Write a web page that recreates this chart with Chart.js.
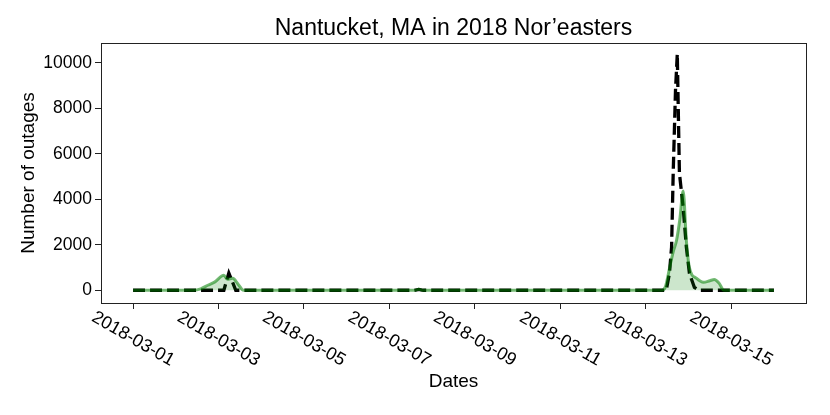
<!DOCTYPE html>
<html>
<head>
<meta charset="utf-8">
<script src="https://cdn.jsdelivr.net/npm/chart.js@4"></script>
<style>
  html, body { margin: 0; padding: 0; background: #fff; }
</style>
</head>
<body>
<canvas id="chart" width="830" height="415"></canvas>
<script>
const chartTitle = 'Nantucket, MA in 2018 Nor’easters';

// x values are hours since 2018-03-01 00:00
const tickHours = [0, 48, 96, 144, 192, 240, 288, 336];
const tickLabels = ['2018-03-01', '2018-03-03', '2018-03-05', '2018-03-07',
                    '2018-03-09', '2018-03-11', '2018-03-13', '2018-03-15'];
const yTicks = [0, 2000, 4000, 6000, 8000, 10000];

// green filled series
const greenHours = [0, 34, 38, 42, 46, 51, 53, 56, 59, 62,
                    158, 160.5, 163,
                    297, 299, 301.5, 303.4, 305.3, 307.1, 309, 310.8, 312.5,
                    316.4, 320.4, 324, 326.5, 329, 332, 360];
const greenOutages = [0, 0, 60, 220, 370, 660, 480, 530, 270, 0,
                      0, 40, 0,
                      0, 150, 1030, 1690, 2200, 3100, 4370, 2200, 1000,
                      530, 350, 420, 470, 330, 0, 0];

// black dashed series
const blackHours = [0, 51, 53.8, 57.7,
                    158, 160.5, 163,
                    299.5, 301.3, 302.5, 303.4, 304.7, 305.7, 306.9, 309,
                    310.8, 312.5, 315.3, 318, 360];
const blackOutages = [0, 0, 760, 0,
                      0, 40, 0,
                      0, 750, 1900, 5150, 8800, 10400, 5150, 3650,
                      1900, 750, 130, 0, 0];

const toPoints = (xs, ys) => xs.map((x, i) => ({x: x, y: ys[i]}));
const FONT = '"Liberation Sans", Arial, sans-serif';

// box around the axes + rotated date labels
const framePlugin = {
  id: 'frame',
  afterDraw(chart) {
    const {ctx, chartArea: a, scales: {x}} = chart;
    ctx.save();
    ctx.strokeStyle = '#222';
    ctx.lineWidth = 1;
    ctx.strokeRect(Math.round(a.left) + 0.5, Math.round(a.top) + 0.5,
                   Math.round(a.right - a.left), Math.round(a.bottom - a.top));
    ctx.font = '18px ' + FONT;
    ctx.fillStyle = '#000';
    ctx.textAlign = 'center';
    ctx.textBaseline = 'middle';
    x.ticks.forEach((t, i) => {
      const px = x.getPixelForValue(t.value);
      ctx.save();
      ctx.translate(px, a.bottom + 36);
      ctx.rotate(Math.PI / 6);
      ctx.fillText(tickLabels[i], 0, 0);
      ctx.restore();
    });
    ctx.restore();
  }
};

new Chart(document.getElementById('chart'), {
  type: 'line',
  data: {
    datasets: [{
      data: toPoints(greenHours, greenOutages),
      borderColor: 'rgba(0,128,0,0.55)',
      backgroundColor: 'rgba(0,128,0,0.2)',
      borderWidth: 3,
      fill: 'origin',
      cubicInterpolationMode: 'monotone',
      pointRadius: 0
    }, {
      data: toPoints(blackHours, blackOutages),
      borderColor: '#000',
      borderWidth: 3.3,
      borderDash: [12, 5],
      fill: false,
      tension: 0,
      pointRadius: 0
    }]
  },
  options: {
    responsive: false,
    animation: false,
    layout: { padding: { left: 0, right: 24, top: 0, bottom: 0 } },
    plugins: {
      legend: { display: false },
      tooltip: { enabled: false },
      title: {
        display: true,
        text: chartTitle,
        fullSize: false,
        color: '#000',
        font: { family: FONT, size: 23, weight: 'normal' },
        padding: { top: 15, bottom: 0.4 }
      }
    },
    scales: {
      x: {
        type: 'linear',
        min: -18,
        max: 378,
        afterBuildTicks: s => { s.ticks = tickHours.map(v => ({value: v})); },
        afterFit: s => { s.height = 112; },
        ticks: { display: false },
        grid: { drawOnChartArea: false, drawTicks: true, tickLength: 6, color: '#222' },
        border: { display: false },
        title: {
          display: true, text: 'Dates', color: '#000',
          font: { family: FONT, size: 19 },
          padding: { top: 0, bottom: 22 }
        }
      },
      y: {
        type: 'linear',
        min: -560,
        max: 10880,
        afterBuildTicks: s => { s.ticks = yTicks.map(v => ({value: v})); },
        afterFit: s => { s.width = 101; },
        ticks: {
          color: '#000', padding: 3,
          font: { family: FONT, size: 17.5 },
          callback: v => String(v)
        },
        grid: { drawOnChartArea: false, drawTicks: true, tickLength: 6, color: '#222' },
        border: { display: false },
        title: {
          display: true, text: 'Number of outages', color: '#000',
          font: { family: FONT, size: 19 },
          padding: { top: 17, bottom: 0 }
        }
      }
    }
  },
  plugins: [framePlugin]
});
</script>
</body>
</html>
